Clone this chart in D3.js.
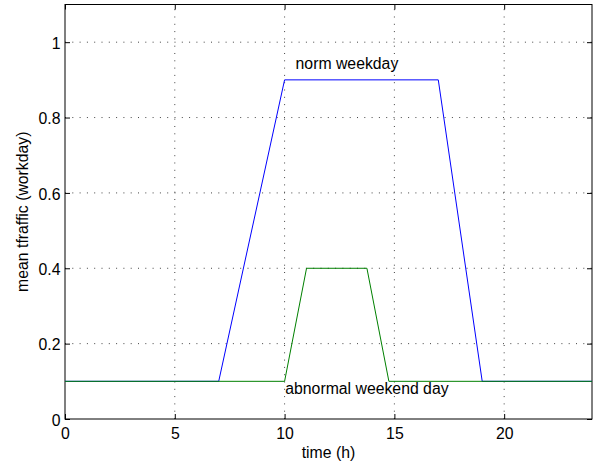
<!DOCTYPE html>
<html><head><meta charset="utf-8">
<script src="https://cdn.jsdelivr.net/npm/d3@7"></script>
<style>body{margin:0;background:#fff}text{font-family:"Liberation Sans",Arial,sans-serif}</style>
</head><body><svg id="c" width="597" height="464"></svg>
<script>
const weekdayX = [0, 7, 10, 17, 19, 24];
const weekdayY = [0.1, 0.1, 0.9, 0.9, 0.1, 0.1];
const weekendX = [0, 10, 11, 13.75, 14.75, 24];
const weekendY = [0.1, 0.1, 0.4, 0.4, 0.1, 0.1];
const xTicks = [0, 5, 10, 15, 20];
const yTicks = [0, 0.2, 0.4, 0.6, 0.8, 1];
const yTickLabels = ["0", "0.2", "0.4", "0.6", "0.8", "1"];

const FS = 15.8;
const svg = d3.select("#c");
const L = 65, R = 592, T = 4.5, B = 419;
const x = d3.scaleLinear().domain([0, 24]).range([L, R]);
const y = d3.scaleLinear().domain([0, 1.1]).range([B, T]);

// grid
const g = svg.append("g");
xTicks.forEach(t => { if (t > 0) g.append("line").attr("x1", x(t)).attr("x2", x(t)).attr("y1", B).attr("y2", T)
  .attr("stroke", "#444").attr("stroke-width", 1).attr("stroke-dasharray", "1,6.3"); });
yTicks.forEach(t => { if (t > 0) g.append("line").attr("y1", y(t)).attr("y2", y(t)).attr("x1", L).attr("x2", R)
  .attr("stroke", "#444").attr("stroke-width", 1).attr("stroke-dasharray", "1,6.3"); });

// axes
const ax = svg.append("g").attr("transform", `translate(0,${B})`)
  .call(d3.axisBottom(x).tickValues(xTicks).tickSize(-5).tickPadding(8.5).tickFormat(d3.format("d")));
const axT = svg.append("g").attr("transform", `translate(0,${T})`)
  .call(d3.axisTop(x).tickValues(xTicks).tickSize(-5).tickFormat(""));
const ay = svg.append("g").attr("transform", `translate(${L},0)`)
  .call(d3.axisLeft(y).tickValues(yTicks).tickSize(-5).tickPadding(4.5).tickFormat((d, i) => yTickLabels[i]));
const ayR = svg.append("g").attr("transform", `translate(${R},0)`)
  .call(d3.axisRight(y).tickValues(yTicks).tickSize(-5).tickFormat(""));
[ax, axT, ay, ayR].forEach(a => {
  a.selectAll(".tick line").attr("stroke", "#000");
  a.selectAll("text").attr("font-size", FS).attr("fill", "#000").style("font-family", "Liberation Sans, Arial, sans-serif");
});
ay.selectAll(".tick text").attr("dy", "0.4em");
svg.selectAll(".domain").remove();
svg.append("rect").attr("x", L).attr("y", T).attr("width", R - L).attr("height", B - T)
  .attr("fill", "none").attr("stroke", "#000").attr("stroke-width", 1);

const line = d3.line().x(d => x(d[0])).y(d => y(d[1]));
svg.append("path").datum(weekdayX.map((v, i) => [v, weekdayY[i]])).attr("d", line)
  .attr("fill", "none").attr("stroke", "#0000ff").attr("stroke-width", 1);
svg.append("path").datum(weekendX.map((v, i) => [v, weekendY[i]])).attr("d", line)
  .attr("fill", "none").attr("stroke", "#008000").attr("stroke-width", 1);

svg.append("text").attr("x", x(10.5)).attr("y", 69).attr("font-size", FS).text("norm weekday");
svg.append("text").attr("x", x(10.03)).attr("y", 394).attr("font-size", FS).text("abnormal weekend day");

svg.append("text").attr("x", (L + R) / 2).attr("y", 457.5).attr("text-anchor", "middle").attr("font-size", FS).text("time (h)");
svg.append("text").attr("transform", `translate(27.5,211.7) rotate(-90)`).attr("text-anchor", "middle")
  .attr("font-size", FS).text("mean tfraffic (workday)");
</script></body></html>
